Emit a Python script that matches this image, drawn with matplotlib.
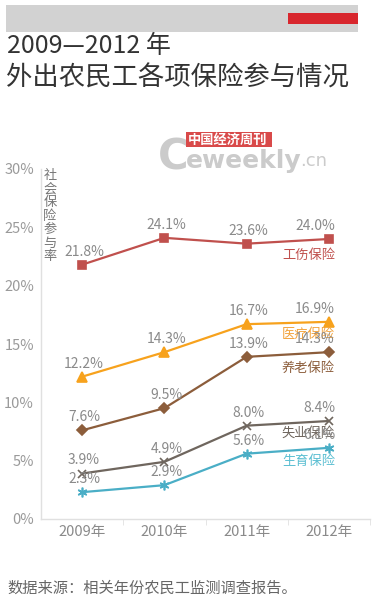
import matplotlib
matplotlib.use("Agg")
import matplotlib.pyplot as plt
from matplotlib.patches import Rectangle

plt.rcParams['font.family'] = ['Noto Sans CJK SC', 'DejaVu Sans']

years = ["2009年", "2010年", "2011年", "2012年"]
series_names = ["工伤保险", "医疗保险", "养老保险", "失业保险", "生育保险"]
injury = [21.8, 24.1, 23.6, 24.0]
medical = [12.2, 14.3, 16.7, 16.9]
pension = [7.6, 9.5, 13.9, 14.3]
unemployment = [3.9, 4.9, 8.0, 8.4]
maternity = [2.3, 2.9, 5.6, 6.1]
yticks = [0, 5, 10, 15, 20, 25, 30]
title1 = "2009—2012 年"
title2 = "外出农民工各项保险参与情况"
ylabel = "社会保险参与率"
source = "数据来源：相关年份农民工监测调查报告。"

W, H = 372, 600
fig = plt.figure(figsize=(W / 100, H / 100), dpi=100)
fig.patch.set_facecolor("white")

# header bars
fig.patches.append(Rectangle((6 / W, 1 - 32 / H), 352 / W, 27 / H, transform=fig.transFigure,
                             facecolor="#d2d2d2", edgecolor="none"))
fig.patches.append(Rectangle((288 / W, 1 - 24 / H), 70 / W, 11 / H, transform=fig.transFigure,
                             facecolor="#d8262d", edgecolor="none"))
fig.text(7 / W, 1 - 46 / H, title1, fontsize=18, color="#333333", va="center", ha="left",
         fontweight="light")
fig.text(6 / W, 1 - 78 / H, title2, fontsize=19, color="#333333", va="center", ha="left",
         fontweight="light")

# watermark
fig.patches.append(Rectangle((186 / W, 1 - 147 / H), 86 / W, 15 / H, transform=fig.transFigure,
                             facecolor="#d94a4a", edgecolor="none"))
fig.text(228 / W, 1 - 140 / H, "中国经济周刊", fontsize=9.5, color="white", va="center", ha="center",
         fontweight="bold")
fig.text(158 / W, 1 - 158 / H, "C", fontsize=30, color="#cbcbcb", va="center", ha="left",
         fontweight="bold", family="DejaVu Sans")
fig.text(186 / W, 1 - 161 / H, "eweekly", fontsize=18, color="#cbcbcb", va="center", ha="left",
         fontweight="bold", family="DejaVu Sans")
fig.text(300 / W, 1 - 161 / H, ".cn", fontsize=13, color="#cbcbcb", va="center", ha="left",
         family="DejaVu Sans")

ax = fig.add_axes([41 / W, 81 / H, 329 / W, 350 / H])
ax.set_facecolor("none")
ax.set_xlim(-0.5, 3.5)
ax.set_ylim(0, 30)
for s in ["top", "right"]:
    ax.spines[s].set_visible(False)
for s in ["left", "bottom"]:
    ax.spines[s].set_color("#e0e0e0")
    ax.spines[s].set_linewidth(1)

ax.set_yticks(yticks)
ax.set_yticklabels([f"{v}%" for v in yticks], fontsize=10.5, color="#9a9a9a")
ax.tick_params(axis="y", length=0, pad=5)
ax.set_xticks(range(4))
ax.set_xticklabels(years, fontsize=10.5, color="#8a8a8a")
ax.tick_params(axis="x", which="major", length=0, pad=4)
ax.set_xticks([0.5, 1.5, 2.5, 3.5], minor=True)
ax.tick_params(axis="x", which="minor", length=4, color="#e0e0e0", direction="out")

xs = list(range(4))
cfg = [
    (injury, "#c0504d", "s", 6, "#c0504d", 16),
    (medical, "#f7a21d", "^", 6.5, "#f2a23a", 13),
    (pension, "#8c5d3b", "D", 5.5, "#8c5d3b", 16),
    (unemployment, "#6f665e", "x", 6, "#6f665e", 12),
    (maternity, "#4aaec6", (6, 2, 0), 7, "#5bbfd2", 14),
]
for (vals, col, mk, ms, lcol, dy), name in zip(cfg, series_names):
    ax.plot(xs, vals, color=col, lw=1.6, marker=mk, markersize=ms, markeredgewidth=1.2,
            markerfacecolor=col, markeredgecolor=col, zorder=3)
    for i, v in enumerate(vals):
        if i < 3:
            ax.annotate(f"{v:.1f}%", (i, v), xytext=(2, 13), textcoords="offset pixels",
                        ha="center", va="center", fontsize=10, color="#8a8a8a", zorder=4)
        else:
            ax.annotate(f"{v:.1f}%", (i, v), xytext=(6, 13), textcoords="offset pixels",
                        ha="right", va="center", fontsize=10, color="#8a8a8a", zorder=4)
    ax.annotate(name, (3, vals[3]), xytext=(6, -dy), textcoords="offset pixels",
                ha="right", va="center", fontsize=9.5, color=lcol, zorder=4)

# vertical y-axis label (stacked characters)
for k, ch in enumerate(ylabel):
    fig.text(50 / W, 1 - (176 + k * 13.4) / H, ch, fontsize=9.5, color="#777777",
             ha="center", va="center")

fig.text(7 / W, 1 - 588 / H, source, fontsize=11, color="#666666", va="center", ha="left")

fig.savefig("out.png", dpi=100, facecolor="white")
